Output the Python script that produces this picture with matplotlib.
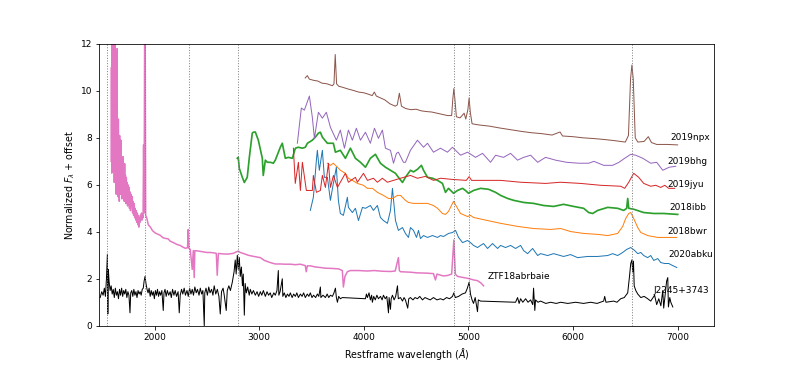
import numpy as np
import matplotlib
matplotlib.use("Agg")
import matplotlib.pyplot as plt

# Spectra: (restframe wavelength [A], normalized flux + offset)
sn2019npx = [
    (3440, 10.55), (3460, 10.65), (3480, 10.5), (3520, 10.45), (3560, 10.42), (3600, 10.33),
    (3650, 10.3), (3700, 10.22), (3715, 10.3), (3727, 11.55), (3740, 10.3), (3760, 10.2),
    (3800, 10.15), (3850, 10.08), (3900, 10.02), (3950, 9.95), (4000, 9.92), (4050, 9.85),
    (4080, 9.8), (4101, 9.95), (4120, 9.78), (4200, 9.62), (4250, 9.45), (4300, 9.35),
    (4320, 9.4), (4340, 9.9), (4360, 9.35), (4400, 9.25), (4450, 9.2), (4500, 9.22),
    (4550, 9.15), (4600, 9.12), (4650, 9.1), (4700, 9.05), (4750, 9.0), (4800, 8.95),
    (4840, 8.95), (4850, 9.6), (4861, 10.1), (4872, 9.6), (4885, 8.9), (4920, 8.85),
    (4959, 9.05), (4975, 8.8), (4995, 9.2), (5007, 9.7), (5018, 9.1), (5035, 8.6),
    (5100, 8.55), (5200, 8.5), (5300, 8.42), (5400, 8.35), (5500, 8.28), (5600, 8.22),
    (5700, 8.18), (5800, 8.12), (5876, 8.25), (5900, 8.08), (6000, 8.05), (6100, 8.0),
    (6200, 7.97), (6300, 7.93), (6400, 7.88), (6500, 7.82), (6530, 8.1), (6550, 10.5),
    (6563, 11.1), (6576, 10.5), (6595, 8.0), (6620, 7.82), (6680, 7.85), (6720, 8.05),
    (6750, 7.8), (6800, 7.72), (6900, 7.72), (7000, 7.7),
]

sn2019bhg = [
    (3365, 7.77), (3403, 9.27), (3432, 9.18), (3480, 9.78), (3508, 8.88), (3528, 7.98),
    (3566, 9.09), (3604, 8.84), (3642, 9.09), (3681, 8.45), (3738, 7.9), (3776, 8.33),
    (3815, 7.56), (3853, 8.33), (3891, 7.9), (3929, 8.41), (3968, 7.9), (4016, 8.24),
    (4063, 7.77), (4102, 8.41), (4140, 7.98), (4178, 8.33), (4207, 7.56), (4255, 7.47),
    (4284, 6.92), (4312, 7.34), (4331, 7.39), (4379, 6.96), (4398, 6.96), (4446, 7.47),
    (4513, 7.9), (4571, 7.6), (4609, 7.77), (4666, 7.39), (4733, 7.56), (4800, 7.39),
    (4848, 7.6), (4925, 7.26), (4992, 7.39), (5068, 7.17), (5135, 7.34), (5212, 6.96),
    (5260, 7.26), (5336, 7.17), (5403, 7.34), (5470, 7.05), (5528, 7.17), (5595, 7.26),
    (5662, 6.96), (5738, 7.17), (5834, 7.05), (5939, 6.96), (6054, 6.92), (6150, 6.92),
    (6200, 7.0), (6293, 6.83), (6379, 6.83), (6440, 6.96), (6494, 7.13), (6552, 7.3),
    (6600, 7.26), (6667, 7.13), (6743, 6.92), (6800, 6.96), (6858, 6.62), (6920, 6.75),
    (6982, 6.79),
]

sn2019jyu = [
    (3327, 7.56), (3345, 6.06), (3375, 6.96), (3394, 5.76), (3413, 6.96), (3451, 5.76),
    (3508, 5.76), (3518, 6.4), (3547, 5.68), (3585, 5.76), (3604, 6.4), (3633, 5.89),
    (3662, 6.92), (3681, 5.89), (3710, 6.4), (3748, 5.89), (3824, 6.49), (3853, 6.11),
    (3920, 6.32), (3939, 6.11), (3997, 6.49), (4035, 6.19), (4092, 6.28), (4130, 6.11),
    (4178, 6.28), (4226, 6.11), (4284, 6.19), (4351, 6.28), (4446, 6.4), (4513, 6.28),
    (4590, 6.36), (4666, 6.19), (4733, 6.28), (4848, 6.23), (4980, 6.19), (5007, 6.35),
    (5030, 6.19), (5116, 6.19), (5308, 6.19), (5500, 6.11), (5738, 6.06), (5880, 6.11),
    (6073, 6.06), (6265, 5.98), (6456, 5.94), (6494, 5.85), (6533, 6.11), (6580, 6.49),
    (6628, 6.32), (6676, 6.06), (6743, 5.94), (6791, 5.98), (6839, 5.89), (6877, 5.98),
    (6915, 5.85), (6972, 5.85),
]

sn2018ibb = [
    (2791, 7.13), (2800, 7.17), (2810, 6.7), (2839, 6.32), (2858, 6.1), (2886, 6.32),
    (2906, 7.17), (2934, 8.2), (2944, 8.24), (2963, 8.25), (2992, 7.9), (3030, 7.13),
    (3039, 6.4), (3059, 7.05), (3078, 6.96), (3106, 6.96), (3135, 6.92), (3154, 7.05),
    (3202, 7.6), (3221, 7.77), (3250, 7.13), (3279, 7.17), (3317, 7.13), (3346, 7.56),
    (3374, 7.6), (3413, 7.56), (3441, 7.6), (3461, 7.77), (3508, 7.9), (3537, 8.03),
    (3566, 8.2), (3585, 8.24), (3604, 8.03), (3652, 7.77), (3681, 7.77), (3709, 7.77),
    (3729, 7.39), (3776, 7.47), (3824, 7.13), (3872, 7.56), (3920, 7.13), (3968, 6.96),
    (4016, 6.75), (4063, 7.13), (4111, 7.3), (4159, 6.92), (4207, 6.75), (4255, 6.62),
    (4303, 6.49), (4331, 6.32), (4370, 6.1), (4398, 6.32), (4446, 6.62), (4475, 6.55),
    (4513, 6.66), (4551, 6.83), (4571, 6.62), (4609, 6.32), (4657, 6.28), (4705, 6.19),
    (4752, 6.06), (4781, 5.68), (4810, 5.85), (4858, 5.64), (4896, 5.76), (4944, 5.85),
    (4972, 5.76), (5001, 5.64), (5049, 5.76), (5116, 5.85), (5193, 5.81), (5260, 5.68),
    (5308, 5.55), (5375, 5.42), (5432, 5.34), (5528, 5.25), (5623, 5.21), (5719, 5.12),
    (5815, 5.08), (5910, 5.17), (6006, 5.08), (6102, 5.0), (6150, 4.82), (6188, 4.78),
    (6236, 4.91), (6332, 5.04), (6427, 5.0), (6485, 4.91), (6513, 5.0), (6523, 5.42),
    (6533, 5.0), (6580, 4.96), (6676, 4.82), (6772, 4.78), (6867, 4.78), (7001, 4.74),
]

sn2018bwr = [
    (3652, 6.92), (3681, 6.83), (3709, 6.92), (3748, 6.75), (3776, 6.62), (3824, 6.49),
    (3853, 6.28), (3891, 6.19), (3939, 6.06), (3997, 5.98), (4035, 5.85), (4083, 5.85),
    (4130, 5.68), (4188, 5.55), (4236, 5.42), (4274, 5.42), (4322, 5.55), (4351, 5.55),
    (4398, 5.34), (4427, 5.25), (4475, 5.21), (4542, 5.21), (4609, 5.21), (4666, 5.12),
    (4705, 5.0), (4752, 4.78), (4781, 4.74), (4810, 4.87), (4848, 5.21), (4858, 5.3),
    (4896, 5.0), (4925, 4.78), (4992, 4.65), (5020, 4.7), (5049, 4.61), (5183, 4.48),
    (5308, 4.36), (5470, 4.23), (5623, 4.14), (5786, 4.1), (5882, 4.14), (5977, 4.01),
    (6102, 3.93), (6236, 3.89), (6332, 3.84), (6427, 3.93), (6475, 4.23), (6504, 4.57),
    (6533, 4.78), (6552, 4.82), (6580, 4.57), (6619, 4.18), (6648, 3.97), (6714, 3.84),
    (6810, 3.76), (6906, 3.76), (6992, 3.76),
]

sn2020abku = [
    (3489, 4.91), (3518, 5.47), (3547, 7.05), (3556, 7.47), (3575, 6.62), (3604, 7.47),
    (3623, 6.32), (3652, 6.32), (3681, 5.34), (3709, 6.06), (3738, 6.75), (3757, 5.34),
    (3776, 4.78), (3805, 4.7), (3843, 5.47), (3853, 5.04), (3891, 4.82), (3920, 5.0),
    (3949, 4.48), (3987, 5.04), (4016, 5.0), (4063, 5.12), (4092, 4.91), (4130, 5.12),
    (4159, 4.61), (4188, 4.48), (4226, 4.36), (4255, 4.91), (4274, 5.85), (4303, 4.48),
    (4331, 4.06), (4370, 4.18), (4398, 3.93), (4427, 3.76), (4446, 4.18), (4475, 4.06),
    (4504, 3.76), (4523, 4.06), (4542, 3.71), (4571, 3.84), (4609, 3.76), (4657, 3.84),
    (4705, 3.76), (4733, 3.84), (4762, 3.8), (4810, 3.93), (4848, 3.97), (4877, 4.06),
    (4906, 3.76), (4944, 3.54), (4992, 3.63), (5020, 3.54), (5049, 3.42), (5087, 3.33),
    (5116, 3.42), (5145, 3.5), (5183, 3.29), (5231, 3.5), (5279, 3.29), (5308, 3.42),
    (5355, 3.33), (5403, 3.42), (5451, 3.29), (5499, 3.42), (5528, 3.2), (5566, 3.07),
    (5614, 3.29), (5662, 2.99), (5690, 3.07), (5757, 2.99), (5815, 3.07), (5910, 2.95),
    (5977, 3.03), (6044, 2.9), (6140, 2.95), (6236, 2.95), (6332, 2.99), (6379, 3.07),
    (6427, 2.99), (6475, 3.12), (6513, 3.25), (6552, 3.33), (6590, 3.2), (6619, 3.07),
    (6648, 3.12), (6676, 2.99), (6714, 2.9), (6743, 2.99), (6772, 2.78), (6810, 2.86),
    (6839, 2.69), (6877, 2.65), (6915, 2.65), (6954, 2.56), (6992, 2.48),
]

ztf18abrbaie = [
    (1585, 7.0), (1588, 11.0), (1591, 6.5), (1594, 12.6), (1597, 7.2), (1600, 13.0),
    (1603, 6.6), (1606, 10.2), (1609, 7.5), (1612, 12.4), (1615, 6.1), (1618, 9.8),
    (1621, 6.8), (1624, 12.2), (1627, 6.2), (1630, 8.9), (1633, 5.6), (1636, 9.6),
    (1639, 6.4), (1642, 11.8), (1645, 6.0), (1648, 8.4), (1651, 5.5), (1654, 8.8),
    (1657, 6.3), (1660, 7.7), (1663, 5.3), (1666, 8.1), (1669, 6.0), (1672, 7.4),
    (1675, 5.6), (1678, 7.9), (1681, 5.9), (1684, 7.0), (1687, 5.4), (1690, 6.8),
    (1694, 5.8), (1698, 7.2), (1702, 5.5), (1706, 6.6), (1710, 5.3), (1714, 6.9),
    (1718, 5.6), (1722, 6.4), (1726, 5.2), (1730, 6.3), (1734, 5.5), (1738, 6.1),
    (1742, 5.1), (1746, 6.0), (1750, 5.3), (1755, 5.9), (1760, 5.0), (1765, 5.7),
    (1770, 4.9), (1775, 5.6), (1780, 5.1), (1785, 5.5), (1790, 4.8), (1795, 5.3),
    (1800, 4.7), (1805, 5.2), (1810, 4.6), (1815, 5.0), (1820, 4.5), (1825, 4.9),
    (1830, 4.4), (1835, 4.8), (1840, 4.3), (1845, 4.7), (1850, 4.2), (1855, 4.6),
    (1860, 4.4), (1865, 4.7), (1870, 4.5), (1875, 4.8), (1880, 4.5), (1885, 4.7),
    (1890, 4.6), (1895, 7.7), (1900, 4.8), (1905, 12.5), (1910, 13.0), (1915, 4.7),
    (1925, 4.6), (1940, 4.3), (1960, 4.2), (1980, 4.05), (2006, 3.95), (2030, 3.9),
    (2054, 3.85), (2080, 3.75), (2102, 3.72), (2130, 3.7), (2149, 3.6), (2175, 3.55),
    (2197, 3.5), (2220, 3.45), (2245, 3.42), (2270, 3.35), (2293, 3.3), (2315, 3.32),
    (2322, 4.1), (2328, 3.3), (2341, 3.25), (2360, 2.4), (2370, 3.2), (2379, 2.05),
    (2385, 3.2), (2420, 3.18), (2460, 3.15), (2500, 3.12), (2532, 3.12), (2570, 3.1),
    (2590, 3.08), (2599, 2.15), (2610, 3.08), (2650, 3.06), (2700, 3.05), (2750, 3.08),
    (2800, 3.18), (2819, 3.12), (2860, 3.06), (2896, 3.0), (2950, 2.95), (3011, 2.9),
    (3050, 2.78), (3106, 2.69), (3154, 2.63), (3202, 2.63), (3250, 2.62), (3300, 2.62),
    (3346, 2.6), (3394, 2.62), (3441, 2.56), (3450, 2.3), (3460, 2.55), (3489, 2.55),
    (3540, 2.5), (3585, 2.48), (3633, 2.45), (3700, 2.44), (3760, 2.42), (3795, 2.35),
    (3805, 1.65), (3820, 2.1), (3843, 2.3), (3872, 2.35), (3950, 2.35), (4035, 2.33),
    (4100, 2.35), (4180, 2.32), (4255, 2.31), (4300, 2.33), (4331, 2.9), (4340, 2.35),
    (4351, 2.3), (4446, 2.28), (4513, 2.25), (4600, 2.24), (4666, 2.22), (4685, 1.95),
    (4700, 2.2), (4760, 2.12), (4800, 2.14), (4840, 2.2), (4861, 3.65), (4875, 2.2),
    (4896, 2.1), (4992, 2.02), (5050, 1.95), (5087, 1.92), (5120, 1.82), (5145, 1.7),
]

j2245 = [
    (1480, 1.2), (1495, 1.45), (1508, 1.3), (1520, 1.6), (1530, 1.25), (1540, 2.0),
    (1549, 3.05), (1553, 0.5), (1558, 2.4), (1565, 1.9), (1575, 1.5), (1585, 1.7),
    (1595, 1.35), (1605, 1.55), (1615, 1.2), (1625, 1.6), (1635, 1.3), (1645, 1.45),
    (1655, 1.15), (1665, 1.55), (1675, 1.3), (1685, 1.6), (1695, 1.25), (1705, 1.5),
    (1715, 1.35), (1725, 1.55), (1735, 1.2), (1745, 1.45), (1755, 1.3), (1765, 0.55),
    (1772, 1.4), (1782, 1.5), (1792, 1.25), (1802, 1.55), (1812, 1.3), (1822, 1.45),
    (1832, 1.2), (1842, 1.5), (1852, 1.35), (1862, 1.45), (1872, 1.3), (1882, 1.55),
    (1892, 1.6), (1900, 1.9), (1909, 2.1), (1918, 1.8), (1928, 1.55), (1938, 1.4),
    (1948, 1.6), (1958, 1.25), (1968, 1.5), (1978, 1.3), (1988, 1.45), (1998, 1.15),
    (2008, 1.5), (2018, 1.3), (2028, 1.55), (2038, 1.25), (2048, 1.45), (2058, 1.3),
    (2070, 1.5), (2083, 0.65), (2090, 1.4), (2100, 1.55), (2111, 1.25), (2122, 1.5),
    (2135, 1.3), (2149, 1.45), (2160, 1.2), (2172, 1.55), (2185, 1.3), (2197, 1.5),
    (2210, 1.25), (2225, 1.45), (2236, 0.55), (2245, 1.3), (2258, 1.55), (2270, 1.35),
    (2283, 1.6), (2295, 1.3), (2310, 1.5), (2322, 1.25), (2335, 1.6), (2348, 1.35),
    (2360, 1.55), (2372, 1.3), (2385, 1.65), (2398, 1.4), (2410, 1.55), (2425, 1.3),
    (2437, 1.6), (2450, 1.35), (2462, 1.5), (2475, 0.0), (2480, 1.4), (2492, 1.6),
    (2505, 1.3), (2518, 1.65), (2530, 1.4), (2545, 1.55), (2558, 1.3), (2570, 1.7),
    (2585, 1.35), (2600, 1.55), (2615, 1.25), (2628, 0.5), (2640, 1.45), (2655, 1.6),
    (2666, 1.3), (2685, 0.65), (2695, 1.5), (2710, 1.7), (2725, 1.5), (2743, 1.85),
    (2760, 2.3), (2771, 2.8), (2780, 2.2), (2791, 3.0), (2800, 2.4), (2810, 2.9),
    (2819, 2.1), (2830, 2.5), (2840, 1.7), (2848, 2.2), (2858, 0.45), (2866, 1.8),
    (2877, 1.4), (2890, 1.65), (2905, 1.3), (2915, 1.55), (2930, 1.35), (2945, 1.5),
    (2963, 1.3), (2980, 1.45), (2995, 1.25), (3011, 1.45), (3025, 1.3), (3040, 1.5),
    (3059, 1.25), (3075, 1.45), (3090, 1.3), (3106, 1.4), (3120, 1.2), (3140, 1.4),
    (3154, 1.3), (3170, 1.5), (3183, 2.35), (3188, 1.3), (3200, 1.45), (3221, 2.0),
    (3226, 1.25), (3240, 1.4), (3255, 1.2), (3270, 1.35), (3285, 1.25), (3298, 1.4),
    (3315, 1.2), (3330, 1.35), (3346, 1.25), (3360, 1.4), (3375, 1.2), (3394, 1.35),
    (3410, 1.25), (3425, 1.4), (3441, 1.2), (3460, 1.35), (3475, 1.25), (3489, 1.4),
    (3505, 1.2), (3520, 1.3), (3540, 1.2), (3556, 1.35), (3570, 1.25), (3585, 1.65),
    (3590, 1.2), (3610, 1.3), (3633, 1.2), (3650, 1.35), (3665, 1.2), (3681, 1.3),
    (3700, 1.25), (3715, 1.4), (3729, 1.6), (3738, 1.2), (3748, 1.0), (3760, 1.25),
    (3776, 1.15), (3795, 1.2), (4016, 1.15), (4025, 1.35), (4035, 1.2), (4050, 1.4),
    (4063, 1.1), (4075, 1.3), (4082, 1.0), (4095, 1.25), (4110, 1.1), (4125, 1.3),
    (4140, 1.15), (4160, 1.25), (4175, 1.1), (4188, 1.3), (4205, 1.15), (4220, 1.25),
    (4236, 0.55), (4242, 1.2), (4255, 0.7), (4262, 1.15), (4274, 1.3), (4290, 1.1),
    (4305, 1.25), (4322, 1.7), (4330, 1.15), (4351, 1.2), (4370, 1.05), (4385, 1.2),
    (4398, 1.1), (4420, 0.75), (4430, 1.15), (4446, 1.2), (4470, 1.1), (4490, 1.2),
    (4513, 1.15), (4535, 1.25), (4561, 1.1), (4585, 1.2), (4609, 1.15), (4635, 1.1),
    (4666, 1.2), (4700, 1.1), (4733, 1.15), (4760, 1.1), (4791, 1.2), (4820, 1.15),
    (4848, 1.25), (4861, 1.4), (4875, 1.2), (4906, 1.25), (4940, 1.35), (4972, 1.4),
    (4990, 1.6), (5007, 1.85), (5020, 1.35), (5035, 1.1), (5049, 0.95), (5065, 1.2),
    (5087, 0.6), (5095, 1.1), (5116, 1.05), (5451, 1.0), (5470, 1.2), (5485, 0.95),
    (5499, 1.15), (5520, 1.0), (5547, 1.15), (5570, 1.0), (5595, 1.1), (5615, 0.9),
    (5623, 1.6), (5635, 0.65), (5642, 1.1), (5665, 1.0), (5690, 1.05), (5740, 0.95),
    (5786, 1.0), (5840, 0.95), (5882, 1.0), (5950, 0.95), (6025, 1.0), (6100, 0.95),
    (6169, 1.0), (6230, 0.95), (6293, 1.05), (6303, 1.25), (6315, 1.0), (6389, 1.05),
    (6420, 1.0), (6456, 1.15), (6490, 1.2), (6523, 1.4), (6540, 2.1), (6552, 2.65),
    (6563, 2.8), (6571, 2.3), (6578, 2.75), (6585, 1.7), (6600, 1.5), (6619, 1.35),
    (6648, 1.2), (6680, 1.25), (6714, 1.15), (6743, 1.05), (6780, 1.3), (6800, 0.9),
    (6820, 1.15), (6840, 0.85), (6858, 1.5), (6867, 0.75), (6880, 1.3), (6895, 1.9),
    (6906, 2.05), (6912, 0.8), (6925, 1.2), (6935, 1.0), (6954, 0.8),
]

# name, spectrum, colour, label x, label y
objects = [
    ("2020abku", sn2020abku, "C0", 6915, 3.03),
    ("2018bwr", sn2018bwr, "C1", 6905, 4.01),
    ("2018ibb", sn2018ibb, "C2", 6925, 5.04),
    ("2019jyu", sn2019jyu, "C3", 6905, 6.02),
    ("2019bhg", sn2019bhg, "C4", 6905, 7.0),
    ("2019npx", sn2019npx, "C5", 6935, 8.03),
    ("ZTF18abrbaie", ztf18abrbaie, "C6", 5183, 2.09),
    ("J2245+3743", j2245, "k", 6772, 1.49),
]
line_widths = {"2018ibb": 1.7, "ZTF18abrbaie": 1.5}

# CIV, CIII], CII], MgII, Hbeta, [OIII], Halpha
lines = [1549, 1909, 2326, 2798, 4861, 5007, 6563]


def main():
    plt.rcParams["font.size"] = 9
    fig, ax = plt.subplots(figsize=(793 / 72, 366 / 72), dpi=72)

    for name, spec, color, tx, ty in objects:
        arr = np.array(spec)
        ax.plot(arr[:, 0], arr[:, 1], color=color, lw=line_widths.get(name, 1.0))
        ax.text(tx, ty, name, fontsize=9, va="center", ha="left")

    for w in lines:
        ax.axvline(w, color="gray", ls=":", lw=1)

    ax.set_xlim(1470, 7345)
    ax.set_ylim(0, 12)
    ax.set_xlabel(r"Restframe wavelength ($\AA$)", fontsize=9.5)
    ax.set_ylabel(r"Normalized $F_\lambda$ + offset", fontsize=9.5)

    plt.savefig("out.png", dpi=72)
    plt.close()


if __name__ == "__main__":
    main()
